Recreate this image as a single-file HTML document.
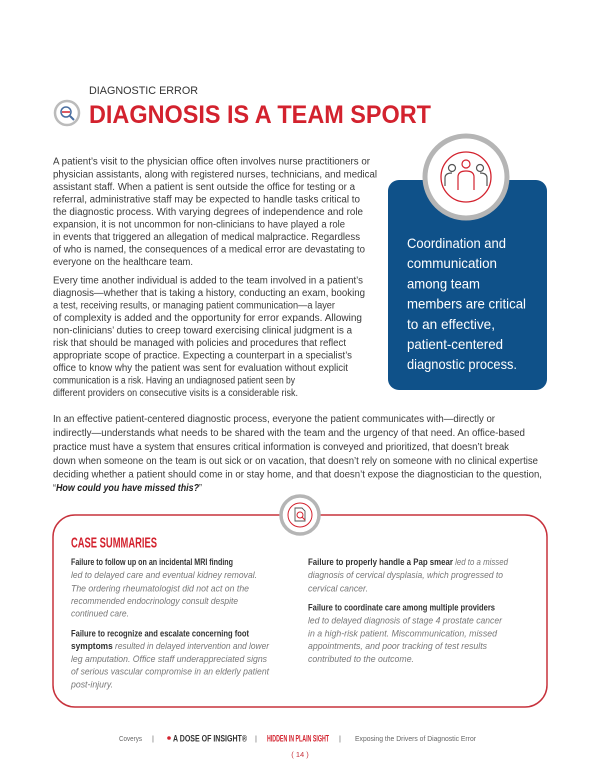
<!DOCTYPE html>
<html><head><meta charset="utf-8"><style>
html,body{margin:0;padding:0;background:#fff;}
svg{display:block;}
.b{font-family:"Liberation Sans",sans-serif;font-size:10px;fill:#3a3a3a;}
.i{font-family:"Liberation Sans",sans-serif;font-size:9.5px;fill:#777;font-style:italic;}
.bd{font-family:"Liberation Sans Narrow","Liberation Sans",sans-serif;font-weight:bold;fill:#333;font-style:normal;}
.w{font-family:"Liberation Sans",sans-serif;font-size:14px;fill:#fff;}
.f{font-family:"Liberation Sans",sans-serif;font-size:7.5px;fill:#666;}
</style></head><body>
<svg width="600" height="776" viewBox="0 0 600 776" xmlns="http://www.w3.org/2000/svg">
<rect width="600" height="776" fill="#fff"/>
<!-- header -->
<text x="89" y="94" font-family="Liberation Sans,sans-serif" font-size="11" fill="#333" textLength="109" lengthAdjust="spacingAndGlyphs">DIAGNOSTIC ERROR</text>
<text x="89" y="123" font-family="Liberation Sans Narrow,Liberation Sans,sans-serif" font-weight="bold" font-size="25" fill="#d3222e" textLength="342" lengthAdjust="spacingAndGlyphs">DIAGNOSIS IS A TEAM SPORT</text>
<circle cx="67" cy="113" r="12" fill="#fff" stroke="#bbb" stroke-width="2.5"/>
<circle cx="66" cy="112" r="5" fill="none" stroke="#4a6ea0" stroke-width="1.5"/>
<line x1="62" y1="112" x2="70" y2="112" stroke="#d3222e" stroke-width="1.5"/>
<line x1="70" y1="116" x2="74" y2="120" stroke="#4a6ea0" stroke-width="2"/>

<!-- para 1 -->
<g class="b">
<text x="53" y="164.5" textLength="317" lengthAdjust="spacingAndGlyphs">A patient’s visit to the physician office often involves nurse practitioners or</text>
<text x="53" y="177.5" textLength="324" lengthAdjust="spacingAndGlyphs">physician assistants, along with registered nurses, technicians, and medical</text>
<text x="53" y="190" textLength="302" lengthAdjust="spacingAndGlyphs">assistant staff. When a patient is sent outside the office for testing or a</text>
<text x="53" y="202.5" textLength="307" lengthAdjust="spacingAndGlyphs">referral, administrative staff may be expected to handle tasks critical to</text>
<text x="53" y="215" textLength="310" lengthAdjust="spacingAndGlyphs">the diagnostic process. With varying degrees of independence and role</text>
<text x="53" y="227.5" textLength="292" lengthAdjust="spacingAndGlyphs">expansion, it is not uncommon for non-clinicians to have played a role</text>
<text x="53" y="240" textLength="307" lengthAdjust="spacingAndGlyphs">in events that triggered an allegation of medical malpractice. Regardless</text>
<text x="53" y="252.5" textLength="312" lengthAdjust="spacingAndGlyphs">of who is named, the consequences of a medical error are devastating to</text>
<text x="53" y="265" textLength="140" lengthAdjust="spacingAndGlyphs">everyone on the healthcare team.</text>
<!-- para 2 -->
<text x="53" y="283.5" textLength="310" lengthAdjust="spacingAndGlyphs">Every time another individual is added to the team involved in a patient’s</text>
<text x="53" y="296" textLength="312" lengthAdjust="spacingAndGlyphs">diagnosis—whether that is taking a history, conducting an exam, booking</text>
<text x="53" y="308.5" textLength="282" lengthAdjust="spacingAndGlyphs">a test, receiving results, or managing patient communication—a layer</text>
<text x="53" y="321" textLength="309" lengthAdjust="spacingAndGlyphs">of complexity is added and the opportunity for error expands. Allowing</text>
<text x="53" y="333.5" textLength="299" lengthAdjust="spacingAndGlyphs">non-clinicians’ duties to creep toward exercising clinical judgment is a</text>
<text x="53" y="346" textLength="293" lengthAdjust="spacingAndGlyphs">risk that should be managed with policies and procedures that reflect</text>
<text x="53" y="358.5" textLength="299" lengthAdjust="spacingAndGlyphs">appropriate scope of practice. Expecting a counterpart in a specialist’s</text>
<text x="53" y="371" textLength="295" lengthAdjust="spacingAndGlyphs">office to know why the patient was sent for evaluation without explicit</text>
<text x="53" y="383.5" textLength="242" lengthAdjust="spacingAndGlyphs">communication is a risk. Having an undiagnosed patient seen by</text>
<text x="53" y="396" textLength="245" lengthAdjust="spacingAndGlyphs">different providers on consecutive visits is a considerable risk.</text>
<!-- full para -->
<text x="53" y="422" textLength="442" lengthAdjust="spacingAndGlyphs">In an effective patient-centered diagnostic process, everyone the patient communicates with—directly or</text>
<text x="53" y="436" textLength="472" lengthAdjust="spacingAndGlyphs">indirectly—understands what needs to be shared with the team and the urgency of that need. An office-based</text>
<text x="53" y="450" textLength="456" lengthAdjust="spacingAndGlyphs">practice must have a system that ensures critical information is conveyed and prioritized, that doesn’t break</text>
<text x="53" y="464" textLength="485" lengthAdjust="spacingAndGlyphs">down when someone on the team is out sick or on vacation, that doesn’t rely on someone with no clinical expertise</text>
<text x="53" y="477.5" textLength="489" lengthAdjust="spacingAndGlyphs">deciding whether a patient should come in or stay home, and that doesn’t expose the diagnostician to the question,</text>
<text x="53" y="491" textLength="149" lengthAdjust="spacingAndGlyphs">“<tspan font-weight="bold" font-style="italic" fill="#222">How could you have missed this?</tspan>”</text>
</g>

<!-- blue box -->
<rect x="388" y="180" width="159" height="210" rx="11" fill="#0f5189"/>
<circle cx="466" cy="177" r="41" fill="#fff" stroke="#b5b5b5" stroke-width="5"/>
<circle cx="466" cy="177" r="25" fill="none" stroke="#d3222e" stroke-width="1.3"/>
<g fill="none" stroke-width="1.2">
<circle cx="466" cy="164" r="4" stroke="#d3222e"/>
<path d="M458 190 v-13 q0 -6 8 -6 q8 0 8 6 v13" stroke="#d3222e"/>
<circle cx="452" cy="168" r="3.5" stroke="#555"/>
<path d="M445 186 v-8 q0 -5 7 -5" stroke="#555"/>
<circle cx="480" cy="168" r="3.5" stroke="#555"/>
<path d="M487 186 v-8 q0 -5 -7 -5" stroke="#555"/>
</g>
<g class="w">
<text x="407" y="248" textLength="99" lengthAdjust="spacingAndGlyphs">Coordination and</text>
<text x="407" y="268" textLength="90" lengthAdjust="spacingAndGlyphs">communication</text>
<text x="407" y="288.5" textLength="73" lengthAdjust="spacingAndGlyphs">among team</text>
<text x="407" y="308.5" textLength="119" lengthAdjust="spacingAndGlyphs">members are critical</text>
<text x="407" y="329" textLength="88" lengthAdjust="spacingAndGlyphs">to an effective,</text>
<text x="407" y="349" textLength="96" lengthAdjust="spacingAndGlyphs">patient-centered</text>
<text x="407" y="369" textLength="110" lengthAdjust="spacingAndGlyphs">diagnostic process.</text>
</g>

<!-- case box -->
<rect x="53" y="515" width="494" height="192" rx="22" fill="none" stroke="#c7323c" stroke-width="1.5"/>
<circle cx="300" cy="515" r="19" fill="#fff" stroke="#b5b5b5" stroke-width="3.5"/>
<circle cx="300" cy="515" r="12" fill="#fff" stroke="#d3222e" stroke-width="1"/>
<path d="M295 508 h7 l3 3 v10 h-10 z" fill="none" stroke="#555" stroke-width="0.9"/>
<circle cx="300" cy="515" r="3" fill="none" stroke="#d3222e" stroke-width="1"/>
<line x1="302" y1="517" x2="305" y2="520" stroke="#d3222e" stroke-width="1"/>
<text x="71" y="547.5" font-family="Liberation Sans Narrow,Liberation Sans,sans-serif" font-weight="bold" font-size="15" fill="#d3222e" textLength="86" lengthAdjust="spacingAndGlyphs">CASE SUMMARIES</text>

<g class="i">
<text x="71" y="565" textLength="162" lengthAdjust="spacingAndGlyphs"><tspan class="bd">Failure to follow up on an incidental MRI finding</tspan></text>
<text x="71" y="578" textLength="186" lengthAdjust="spacingAndGlyphs">led to delayed care and eventual kidney removal.</text>
<text x="71" y="591.5" textLength="178" lengthAdjust="spacingAndGlyphs">The ordering rheumatologist did not act on the</text>
<text x="71" y="604" textLength="167" lengthAdjust="spacingAndGlyphs">recommended endocrinology consult despite</text>
<text x="71" y="616.5" textLength="58" lengthAdjust="spacingAndGlyphs">continued care.</text>
<text x="71" y="636.5" textLength="178" lengthAdjust="spacingAndGlyphs"><tspan class="bd">Failure to recognize and escalate concerning foot</tspan></text>
<text x="71" y="649" textLength="198" lengthAdjust="spacingAndGlyphs"><tspan class="bd">symptoms</tspan> resulted in delayed intervention and lower</text>
<text x="71" y="662" textLength="196" lengthAdjust="spacingAndGlyphs">leg amputation. Office staff underappreciated signs</text>
<text x="71" y="674.5" textLength="198" lengthAdjust="spacingAndGlyphs">of serious vascular compromise in an elderly patient</text>
<text x="71" y="687.5" textLength="42" lengthAdjust="spacingAndGlyphs">post-injury.</text>

<text x="308" y="565" textLength="200" lengthAdjust="spacingAndGlyphs"><tspan class="bd">Failure to properly handle a Pap smear</tspan> led to a missed</text>
<text x="308" y="578" textLength="195" lengthAdjust="spacingAndGlyphs">diagnosis of cervical dysplasia, which progressed to</text>
<text x="308" y="591.5" textLength="60" lengthAdjust="spacingAndGlyphs">cervical cancer.</text>
<text x="308" y="610.5" textLength="187" lengthAdjust="spacingAndGlyphs"><tspan class="bd">Failure to coordinate care among multiple providers</tspan></text>
<text x="308" y="623.5" textLength="194" lengthAdjust="spacingAndGlyphs">led to delayed diagnosis of stage 4 prostate cancer</text>
<text x="308" y="636.5" textLength="189" lengthAdjust="spacingAndGlyphs">in a high-risk patient. Miscommunication, missed</text>
<text x="308" y="649" textLength="179" lengthAdjust="spacingAndGlyphs">appointments, and poor tracking of test results</text>
<text x="308" y="662" textLength="106" lengthAdjust="spacingAndGlyphs">contributed to the outcome.</text>
</g>

<!-- footer -->
<g class="f">
<text x="119" y="741" textLength="23" lengthAdjust="spacingAndGlyphs">Coverys</text>
<text x="152" y="741">|</text>
<circle cx="169" cy="738" r="1.8" fill="#d3222e"/>
<text x="173" y="741.5" font-family="Liberation Sans Narrow,Liberation Sans,sans-serif" font-weight="bold" font-size="9" fill="#333" textLength="74" lengthAdjust="spacingAndGlyphs">A DOSE OF INSIGHT®</text>
<text x="255" y="741">|</text>
<text x="267" y="741.5" font-family="Liberation Sans Narrow,Liberation Sans,sans-serif" font-weight="bold" font-size="9" fill="#d3222e" textLength="62" lengthAdjust="spacingAndGlyphs">HIDDEN IN PLAIN SIGHT</text>
<text x="339" y="741">|</text>
<text x="355" y="741" textLength="121" lengthAdjust="spacingAndGlyphs">Exposing the Drivers of Diagnostic Error</text>
<text x="300" y="757" text-anchor="middle" fill="#c7323c">( 14 )</text>
</g>
</svg>
</body></html>
